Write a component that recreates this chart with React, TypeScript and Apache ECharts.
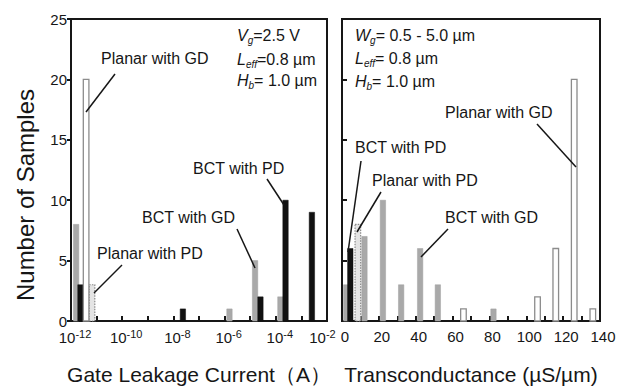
import React, { useEffect, useRef } from 'react';
import * as echarts from 'echarts';

// ---- data ----
// Left panel: gate leakage current, x = log10(I / A)
const leakYTicks = [0, 5, 10, 15, 20, 25];
const leakExpLabels = [-12, -10, -8, -6, -4, -2];
const leakBctGdX = [-11.8, -5.81, -4.81, -3.82];
const leakBctGdN = [8, 1, 5, 2];
const leakBctPdX = [-11.63, -7.63, -4.6, -3.62, -2.59];
const leakBctPdN = [3, 1, 2, 10, 9];
const leakPlanarGdX = [-11.41];
const leakPlanarGdN = [20];
const leakPlanarPdX = [-11.18];
const leakPlanarPdN = [3];

// Right panel: transconductance (uS/um)
const gmTickLabels = [0, 20, 40, 60, 80, 100, 120, 140];
const gmBctGdX = [2.3, 12.2, 22.2, 32.1, 42.4, 52.0, 82.2];
const gmBctGdN = [3, 7, 10, 3, 6, 3, 1];
const gmBctPdX = [4.5];
const gmBctPdN = [6];
const gmPlanarPdX = [8.6];
const gmPlanarPdN = [8];
const gmPlanarGdX = [65.9, 106.1, 116.0, 126.0, 136.1];
const gmPlanarGdN = [1, 2, 6, 20, 1];

const FONT = '"Liberation Sans", Arial, Helvetica, sans-serif';
const INK = '#161616';

const pairs = (xs: number[], ns: number[]) => xs.map((x, i) => [x, ns[i]]);

type Kind = 'grey' | 'black' | 'white' | 'dotted';
const barStyle = (kind: Kind) => {
  switch (kind) {
    case 'grey':
      return { fill: '#a9a9a9', stroke: '#a0a0a0', lineWidth: 0.5 };
    case 'black':
      return { fill: '#111111', stroke: '#111111', lineWidth: 0.5 };
    case 'white':
      return { fill: '#ffffff', stroke: '#8c8c8c', lineWidth: 1.3 };
    default:
      return { fill: '#e4e4e4', stroke: '#8a8a8a', lineWidth: 1.2, lineDash: [1.5, 1.2] };
  }
};

const makeRender = (kind: Kind, w: number) => (params: any, api: any) => {
  const x = api.value(0);
  const y = api.value(1);
  const top = api.coord([x, y]);
  const base = api.coord([x, 0]);
  return {
    type: 'rect',
    shape: { x: top[0] - w / 2, y: top[1], width: w, height: base[1] - top[1] },
    style: barStyle(kind),
  };
};

const barSeries = (name: string, kind: Kind, idx: number, data: number[][]) => ({
  type: 'custom',
  name,
  xAxisIndex: idx,
  yAxisIndex: idx,
  renderItem: makeRender(kind, kind === 'white' || kind === 'dotted' ? 5.6 : 5.4),
  data,
  z: kind === 'white' ? 3 : 2,
});

const txt = (text: string, x: number, y: number, size = 16, extra: any = {}) => ({
  type: 'text',
  x,
  y,
  style: {
    text,
    fill: INK,
    fontSize: size,
    fontFamily: FONT,
    align: 'left',
    verticalAlign: 'middle',
    ...extra,
  },
  z: 10,
});

const ln = (x1: number, y1: number, x2: number, y2: number) => ({
  type: 'line',
  shape: { x1, y1, x2, y2 },
  style: { stroke: INK, lineWidth: 1.5 },
  z: 10,
});

const paramRich = {
  i: { fontSize: 16, fontStyle: 'italic', fontFamily: FONT, fill: INK, lineHeight: 20, verticalAlign: 'middle' },
  s: { fontSize: 10, fontStyle: 'italic', fontFamily: FONT, fill: INK, lineHeight: 12, verticalAlign: 'bottom' },
  n: { fontSize: 16, fontFamily: FONT, fill: INK, lineHeight: 20, verticalAlign: 'middle' },
};

const param = (text: string, x: number, y: number) => ({
  type: 'text',
  x,
  y,
  style: { text, rich: paramRich, align: 'left', verticalAlign: 'middle', fill: INK },
  z: 10,
});

const axisLine = { show: true, lineStyle: { color: INK, width: 2 } };

export default function App() {
  const ref = useRef<HTMLDivElement>(null);
  useEffect(() => {
    if (!ref.current) return;
    const chart = echarts.init(ref.current, null, { renderer: 'svg' });
    const option: any = {
      animation: false,
      backgroundColor: '#ffffff',
      grid: [
        { left: 71, top: 19, width: 256, height: 309, show: true, borderColor: INK, borderWidth: 2, backgroundColor: 'transparent' },
        { left: 342, top: 19, width: 258, height: 309, show: true, borderColor: INK, borderWidth: 2, backgroundColor: 'transparent' },
      ],
      xAxis: [
        {
          type: 'value',
          gridIndex: 0,
          min: -12,
          max: -2,
          interval: 1,
          splitLine: { show: false },
          axisLine,
          axisTick: { show: true, inside: true, length: 5, lineStyle: { color: INK, width: 2 } },
          axisLabel: {
            margin: 7,
            formatter: (v: number) => {
              const e = Math.round(v);
              if (!leakExpLabels.includes(e)) return '';
              if (e === -2) return `{bl|10}{sl|${e}}`;
              return `{b|10}{s|${e}}`;
            },
            rich: {
              b: { fontSize: 15, fontFamily: FONT, color: INK, lineHeight: 18, verticalAlign: 'middle', padding: [0, 0, 0, 8] },
              s: { fontSize: 11, fontFamily: FONT, color: INK, lineHeight: 11, verticalAlign: 'top' },
              bl: { fontSize: 15, fontFamily: FONT, color: INK, lineHeight: 18, verticalAlign: 'middle' },
              sl: { fontSize: 11, fontFamily: FONT, color: INK, lineHeight: 11, verticalAlign: 'top', padding: [0, 9, 0, 0] },
            },
          },
          name: 'Gate Leakage Current（A）',
          nameLocation: 'middle',
          nameGap: 43,
          nameTextStyle: { fontSize: 21, fontFamily: FONT, color: INK },
        },
        {
          type: 'value',
          gridIndex: 1,
          min: 0,
          max: 140,
          interval: 10,
          splitLine: { show: false },
          axisLine,
          axisTick: { show: true, inside: true, length: 5, lineStyle: { color: INK, width: 2 } },
          axisLabel: {
            margin: 8,
            fontSize: 15,
            fontFamily: FONT,
            color: INK,
            padding: [0, 0, 0, 6],
            formatter: (v: number) => (gmTickLabels.includes(Math.round(v)) ? String(Math.round(v)) : ''),
          },
          name: 'Transconductance (µS/µm)',
          nameLocation: 'middle',
          nameGap: 43,
          nameTextStyle: { fontSize: 21, fontFamily: FONT, color: INK },
        },
      ],
      yAxis: [
        {
          type: 'value',
          gridIndex: 0,
          min: leakYTicks[0],
          max: leakYTicks[leakYTicks.length - 1],
          interval: 5,
          splitLine: { show: false },
          axisLine,
          axisTick: { show: true, inside: false, length: 4, lineStyle: { color: INK, width: 2 } },
          axisLabel: { margin: 4, fontSize: 15, lineHeight: 14, fontFamily: FONT, color: INK },
        },
        {
          type: 'value',
          gridIndex: 1,
          min: leakYTicks[0],
          max: leakYTicks[leakYTicks.length - 1],
          interval: 5,
          splitLine: { show: false },
          axisLine,
          axisTick: { show: true, inside: true, length: 5, lineStyle: { color: INK, width: 2 } },
          axisLabel: { show: false },
        },
      ],
      series: [
        barSeries('BCT with GD', 'grey', 0, pairs(leakBctGdX, leakBctGdN)),
        barSeries('BCT with PD', 'black', 0, pairs(leakBctPdX, leakBctPdN)),
        barSeries('Planar with GD', 'white', 0, pairs(leakPlanarGdX, leakPlanarGdN)),
        barSeries('Planar with PD', 'dotted', 0, pairs(leakPlanarPdX, leakPlanarPdN)),
        barSeries('BCT with GD', 'grey', 1, pairs(gmBctGdX, gmBctGdN)),
        barSeries('BCT with PD', 'black', 1, pairs(gmBctPdX, gmBctPdN)),
        barSeries('Planar with PD', 'dotted', 1, pairs(gmPlanarPdX, gmPlanarPdN)),
        barSeries('Planar with GD', 'white', 1, pairs(gmPlanarGdX, gmPlanarGdN)),
      ],
      graphic: [
        // y-axis title
        {
          type: 'text',
          x: 25,
          y: 195,
          rotation: Math.PI / 2,
          style: {
            text: 'Number of Samples',
            fill: INK,
            fontSize: 24,
            fontFamily: FONT,
            align: 'center',
            verticalAlign: 'middle',
          },
          z: 10,
        },
        // left panel annotations
        txt('Planar with GD', 101, 58),
        ln(115, 74, 86, 112),
        txt('BCT with PD', 193, 168),
        ln(267, 179, 284, 205),
        txt('BCT with GD', 142, 217),
        ln(237, 229, 255, 268),
        txt('Planar with PD', 97, 253),
        ln(122, 265, 94, 293),
        param('{i|V}{s|g}{n|=2.5 V}', 237, 35),
        param('{i|L}{s|eff}{n|=0.8 µm}', 237, 59),
        param('{i|H}{s|b}{n|= 1.0 µm}', 237, 80),
        // right panel annotations
        txt('Planar with GD', 445, 112),
        ln(537, 124, 576, 167),
        txt('BCT with PD', 355, 147),
        ln(361, 161, 348, 252),
        txt('Planar with PD', 372, 180),
        ln(381, 192, 357, 232),
        txt('BCT with GD', 445, 217),
        ln(448, 229, 421, 257),
        param('{i|W}{s|g}{n|= 0.5 - 5.0 µm}', 355, 35),
        param('{i|L}{s|eff}{n|= 0.8 µm}', 355, 58),
        param('{i|H}{s|b}{n|= 1.0 µm}', 355, 81),
      ],
    };
    chart.setOption(option);
    return () => chart.dispose();
  }, []);
  return (
    <div
      ref={ref}
      style={{ position: 'fixed', left: 0, top: 0, width: 627, height: 390, background: '#fff' }}
    />
  );
}
